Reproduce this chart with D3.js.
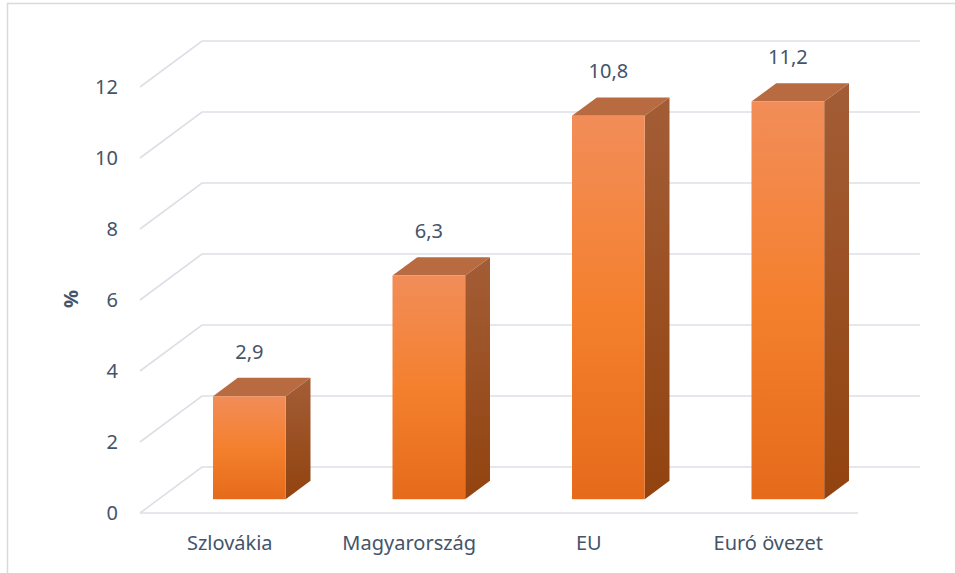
<!DOCTYPE html>
<html lang="hu">
<head>
<meta charset="UTF-8">
<title>3D oszlopdiagram</title>
<script src="https://d3js.org/d3.v7.min.js"></script>
<style>
  body { margin: 0; background: #fff; }
  svg text { font-family: "Noto Sans", "Open Sans", sans-serif; fill: #44546a; }
</style>
</head>
<body>
<div id="chart"></div>
<script>
// data
var categories = ['Szlovákia', 'Magyarország', 'EU', 'Euró övezet'];
var values = [2.9, 6.3, 10.8, 11.2];
var labels = ['2,9', '6,3', '10,8', '11,2'];
var yTicks = [0, 2, 4, 6, 8, 10, 12];

var width = 955, height = 573;

var svg = d3.select('#chart').append('svg')
    .attr('width', width)
    .attr('height', height);

// outer frame
svg.append('rect')
    .attr('x', 7.5).attr('y', 3.5)
    .attr('width', 970).attr('height', 590)
    .attr('fill', 'none')
    .attr('stroke', '#d9d9d9')
    .attr('stroke-width', 1.5);

// front plane scales
var x = d3.scaleBand().domain(categories).range([140, 858]);
var y = d3.scaleLinear().domain([0, 12]).range([513, 87]);
// depth offset (0 = front, 1 = back wall)
var depthX = d3.scaleLinear().domain([0, 1]).range([0, 62]);
var depthY = d3.scaleLinear().domain([0, 1]).range([0, -46]);

function pt(px, v, d) {
    return [px + depthX(d), y(v) + depthY(d)];
}

var defs = svg.append('defs');
var gFront = defs.append('linearGradient').attr('id', 'gFront')
    .attr('x1', 0).attr('y1', 0).attr('x2', 0).attr('y2', 1);
gFront.append('stop').attr('offset', '0%').attr('stop-color', '#f28d59');
gFront.append('stop').attr('offset', '50%').attr('stop-color', '#f4802e');
gFront.append('stop').attr('offset', '100%').attr('stop-color', '#e56b1b');
var gSide = defs.append('linearGradient').attr('id', 'gSide')
    .attr('x1', 0).attr('y1', 0).attr('x2', 0).attr('y2', 1);
gSide.append('stop').attr('offset', '0%').attr('stop-color', '#a35d36');
gSide.append('stop').attr('offset', '100%').attr('stop-color', '#92430f');

// gridlines: side wall diagonal + back wall horizontal
var grid = svg.append('g').attr('stroke', '#dcdfe6').attr('stroke-width', 1.6).attr('fill', 'none');
yTicks.forEach(function (t) {
    var a = pt(x.range()[0], t, 0), b = pt(x.range()[0], t, 1), c = pt(x.range()[1], t, 1);
    grid.append('path').attr('d', d3.line()([a, b, c]));
});
// floor front edge
grid.append('line')
    .attr('x1', x.range()[0]).attr('x2', x.range()[1])
    .attr('y1', y(0)).attr('y2', y(0));

// bars
var d0 = 0.3, d1 = 0.7, barW = x.bandwidth() * 0.405;
var bars = svg.append('g');
categories.forEach(function (c, i) {
    var left = x(c) + (x.bandwidth() - barW) / 2 + depthX(d0) - depthX(0.3) + 1;
    var right = left + barW;
    var v = values[i];
    var g = bars.append('g');
    // side face
    g.append('path')
        .attr('d', d3.line()([pt(right, 0, d0), pt(right, v, d0), pt(right, v, d1), pt(right, 0, d1)]) + 'Z')
        .attr('fill', 'url(#gSide)');
    // top face
    g.append('path')
        .attr('d', d3.line()([pt(left, v, d0), pt(left, v, d1), pt(right, v, d1), pt(right, v, d0)]) + 'Z')
        .attr('fill', '#b86a40');
    // front face
    var fl = pt(left, v, d0), br = pt(right, 0, d0);
    g.append('rect')
        .attr('x', fl[0]).attr('y', fl[1])
        .attr('width', br[0] - fl[0]).attr('height', br[1] - fl[1])
        .attr('fill', 'url(#gFront)');
    // value label
    var back = pt(left, v, d1);
    svg.append('text')
        .attr('x', (fl[0] + br[0]) / 2)
        .attr('y', back[1] - 19)
        .attr('text-anchor', 'middle')
        .attr('font-size', 20)
        .text(labels[i]);
});

// y axis labels
var yAxis = d3.axisLeft(y).tickValues(yTicks).tickSize(0).tickPadding(22)
    .tickFormat(function (d) { return d; });
svg.append('g').attr('transform', 'translate(140,0)').call(yAxis)
    .call(function (g) { g.select('.domain').remove(); })
    .selectAll('text').attr('font-size', 20).attr('fill', '#44546a')
    .style('font-family', '"Noto Sans", sans-serif');

// category axis
var xAxis = d3.axisBottom(x).tickSize(0).tickPadding(23);
svg.append('g').attr('transform', 'translate(0,' + y(0) + ')').call(xAxis)
    .call(function (g) { g.select('.domain').remove(); })
    .selectAll('text').attr('font-size', 20).attr('fill', '#44546a')
    .style('font-family', '"Noto Sans", sans-serif');

// axis title
svg.append('text')
    .attr('transform', 'translate(78,299) rotate(-90)')
    .attr('text-anchor', 'middle')
    .attr('font-size', 20)
    .attr('font-weight', 'bold')
    .text('%');
</script>
</body>
</html>
